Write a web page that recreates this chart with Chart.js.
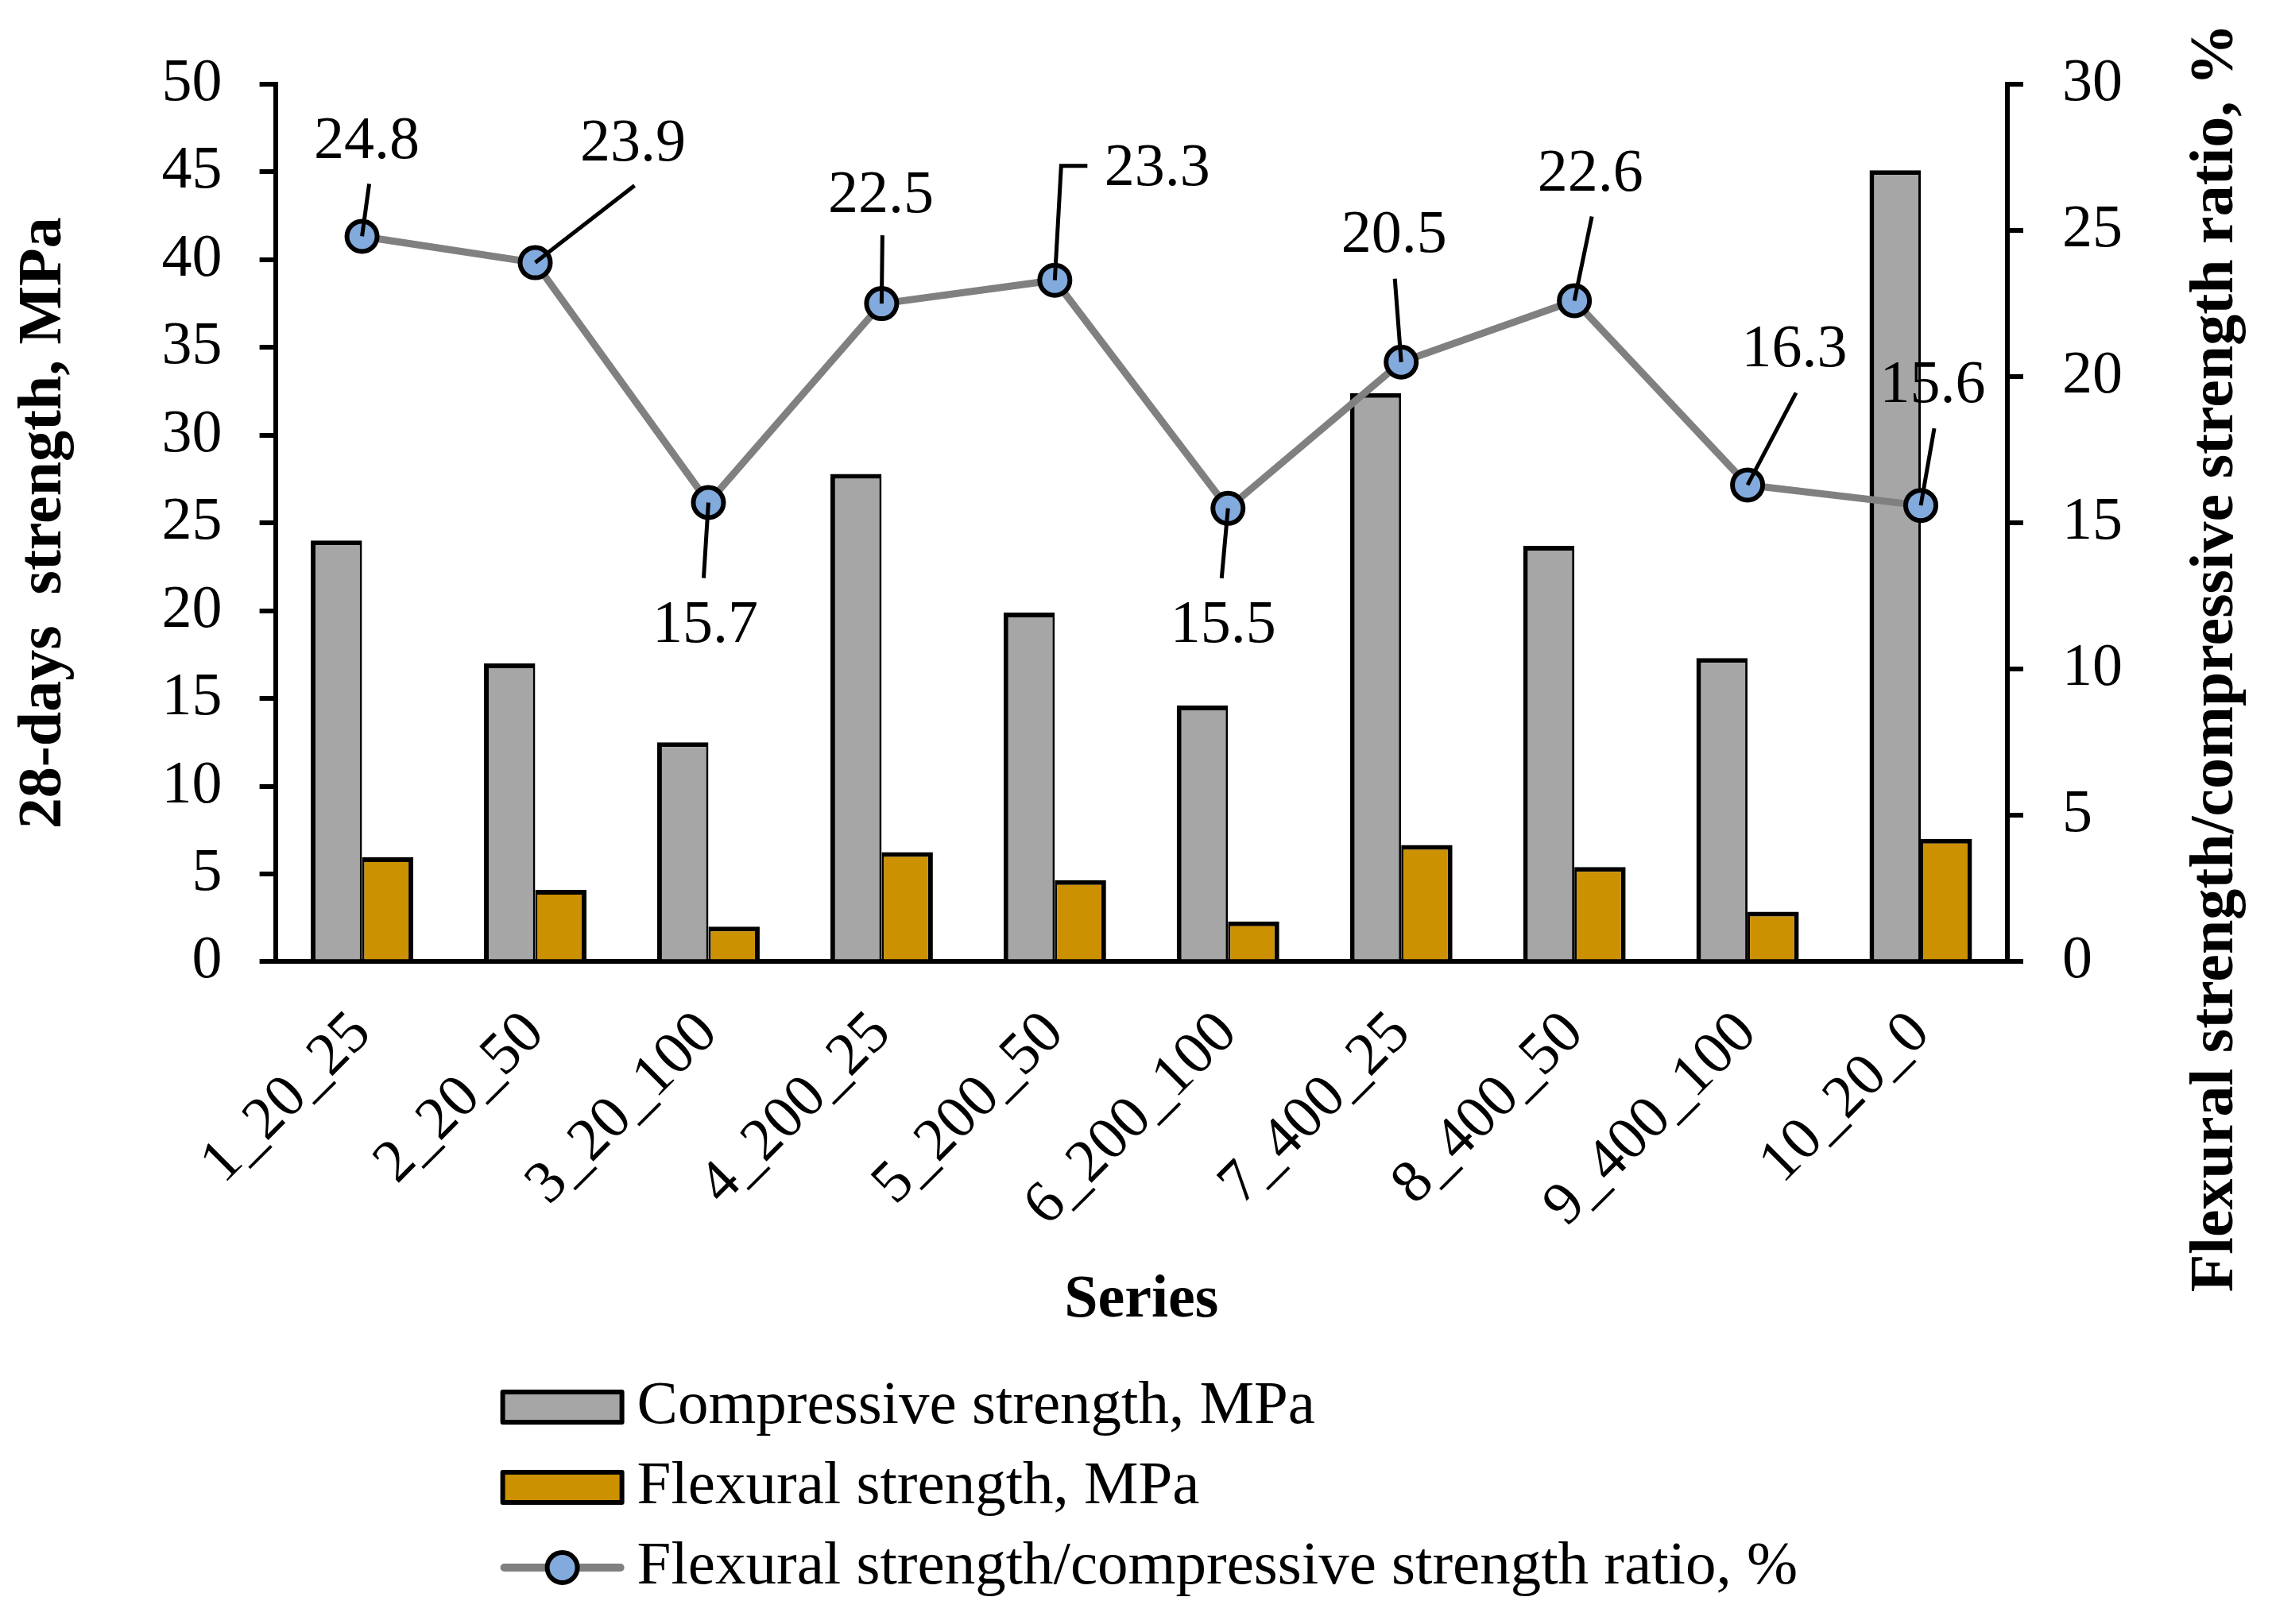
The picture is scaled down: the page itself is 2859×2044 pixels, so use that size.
<!DOCTYPE html>
<html>
<head>
<meta charset="utf-8">
<script src="https://cdn.jsdelivr.net/npm/chart.js@4.4.1/dist/chart.umd.min.js"></script>
<style>
  html, body { margin: 0; padding: 0; background: #ffffff; }
  #wrap { width: 2859px; height: 2044px; }
</style>
</head>
<body>
<div id="wrap"><canvas id="c" width="2859" height="2044"></canvas></div>
<script>
// ---------------- data ----------------
const categories = ['1_20_25', '2_20_50', '3_20_100', '4_200_25', '5_200_50', '6_200_100', '7_400_25', '8_400_50', '9_400_100', '10_20_0'];
const compressive = [24.0, 17.0, 12.5, 27.8, 19.9, 14.6, 32.4, 23.7, 17.3, 45.1];
const flexural = [5.95, 4.1, 2.0, 6.25, 4.65, 2.3, 6.65, 5.4, 2.85, 7.0];
const ratio = [24.8, 23.9, 15.7, 22.5, 23.3, 15.5, 20.5, 22.6, 16.3, 15.6];
const ratioLabels = ['24.8', '23.9', '15.7', '22.5', '23.3', '15.5', '20.5', '22.6', '16.3', '15.6'];

const seriesNames = ['Compressive strength, MPa', 'Flexural strength, MPa', 'Flexural strength/compressive strength ratio, %'];
const leftAxisTitle = '28-days  strength, MPa';
const rightAxisTitle = 'Flexural strength/compressive strength ratio, %';
const xAxisTitle = 'Series';
const leftAxisRange = [0, 50];
const rightAxisRange = [0, 30];
const tickStep = 5;

// label placement (offsets from each marker, px) and leader lines
const labelOffsets = [[6, -118], [123, -149], [-4, 156], [-1, -135], [129, -140], [-6, 148], [-9, -159], [20, -158], [59, -169], [15, -150]];
const leaderPaths = [[[9, -66]], [[125, -97]], [[-6, 95]], [[1, -86]], [[8, -144], [41, -144]], [[-8, 88]], [[-8, -105]], [[22, -106]], [[61, -116]], [[17, -97]]];

// ---------------- styles ----------------
const FONT = "'Liberation Serif', 'Times New Roman', Times, serif";
const GREY = '#a6a6a6';
const GOLD = '#cc9100';
const LINE = '#808080';
const MARK = '#82aadc';

Chart.defaults.font.family = FONT;
Chart.defaults.color = '#000';

const ratioLabelPlugin = {
  id: 'ratioLabels',
  afterDatasetsDraw(chart) {
    const meta = chart.getDatasetMeta(2);
    const ctx = chart.ctx;
    ctx.save();
    ctx.strokeStyle = '#000';
    ctx.lineWidth = 5;
    ctx.lineJoin = 'miter';
    ctx.lineCap = 'butt';
    meta.data.forEach((pt, i) => {
      ctx.beginPath();
      ctx.moveTo(pt.x, pt.y);
      leaderPaths[i].forEach(p => ctx.lineTo(pt.x + p[0], pt.y + p[1]));
      ctx.stroke();
    });
    ctx.fillStyle = '#000';
    ctx.font = '76px ' + FONT;
    ctx.textAlign = 'center';
    ctx.textBaseline = 'middle';
    meta.data.forEach((pt, i) => {
      ctx.fillText(ratioLabels[i], pt.x + labelOffsets[i][0], pt.y + labelOffsets[i][1]);
    });
    ctx.restore();
  }
};

const rightTitlePlugin = {
  id: 'rightTitle',
  afterDraw(chart) {
    const ctx = chart.ctx;
    const ca = chart.chartArea;
    ctx.save();
    ctx.translate(ca.right + 263, 828);
    ctx.rotate(-Math.PI / 2);
    ctx.font = 'bold 78px ' + FONT;
    ctx.fillStyle = '#000';
    ctx.textAlign = 'center';
    ctx.textBaseline = 'middle';
    ctx.fillText(rightAxisTitle, 0, 0);
    ctx.restore();
  }
};

const stackedLegendPlugin = {
  id: 'stackedLegend',
  afterDraw(chart) {
    const ctx = chart.ctx;
    const left = chart.chartArea.left + 283;
    const firstRow = chart.scales.x.bottom + 88;
    const rowGap = 101;
    const boxW = 156, boxH = 44;
    ctx.save();
    chart.data.datasets.forEach((ds, i) => {
      const cy = firstRow + i * rowGap;
      if (ds.type === 'line') {
        ctx.strokeStyle = ds.borderColor;
        ctx.lineWidth = 10;
        ctx.lineCap = 'round';
        ctx.beginPath();
        ctx.moveTo(left + 5, cy);
        ctx.lineTo(left + boxW - 5, cy);
        ctx.stroke();
        ctx.beginPath();
        ctx.arc(left + boxW / 2, cy, 19, 0, Math.PI * 2);
        ctx.fillStyle = ds.pointBackgroundColor;
        ctx.fill();
        ctx.lineWidth = 6;
        ctx.strokeStyle = ds.pointBorderColor;
        ctx.stroke();
      } else {
        ctx.fillStyle = ds.backgroundColor;
        ctx.strokeStyle = '#000';
        ctx.lineWidth = 6;
        ctx.lineJoin = 'round';
        ctx.fillRect(left + 3, cy - boxH / 2 + 3, boxW - 6, boxH - 6);
        ctx.strokeRect(left + 3, cy - boxH / 2 + 3, boxW - 6, boxH - 6);
      }
      ctx.fillStyle = '#000';
      ctx.font = '77px ' + FONT;
      ctx.textAlign = 'left';
      ctx.textBaseline = 'middle';
      ctx.fillText(ds.label, left + boxW + 16, cy);
    });
    ctx.restore();
  }
};

new Chart(document.getElementById('c'), {
  data: {
    labels: categories,
    datasets: [
      {
        type: 'bar', label: seriesNames[0], data: compressive, yAxisID: 'y', order: 1,
        backgroundColor: GREY, borderColor: '#000',
        borderWidth: {top: 6, left: 6, right: 3, bottom: 0}, borderSkipped: false,
        categoryPercentage: 0.592, barPercentage: 1.0
      },
      {
        type: 'bar', label: seriesNames[1], data: flexural, yAxisID: 'y', order: 1,
        backgroundColor: GOLD, borderColor: '#000',
        borderWidth: {top: 6, left: 3, right: 6, bottom: 0}, borderSkipped: false,
        categoryPercentage: 0.592, barPercentage: 1.0
      },
      {
        type: 'line', label: seriesNames[2], data: ratio, yAxisID: 'y2', order: 0,
        borderColor: LINE, borderWidth: 9, tension: 0, fill: false,
        pointRadius: 19, pointHoverRadius: 19, pointBorderWidth: 6,
        pointBackgroundColor: MARK, pointBorderColor: '#000'
      }
    ]
  },
  options: {
    responsive: false,
    animation: false,
    devicePixelRatio: 1,
    events: [],
    layout: {padding: {top: 106, left: 0, right: 139, bottom: 361}},
    plugins: {legend: {display: false}, tooltip: {enabled: false}, title: {display: false}},
    scales: {
      x: {
        type: 'category',
        offset: true,
        grid: {display: false, drawTicks: false},
        border: {display: true, color: '#000', width: 6},
        ticks: {font: {size: 76}, color: '#000', minRotation: 45, maxRotation: 45, padding: 46, autoSkip: false},
        title: {display: true, text: xAxisTitle, color: '#000', font: {size: 76, weight: 'bold'}, padding: {top: -17, bottom: 0}}
      },
      y: {
        type: 'linear', position: 'left',
        min: leftAxisRange[0], max: leftAxisRange[1],
        ticks: {stepSize: tickStep, font: {size: 76}, color: '#000', padding: 47},
        grid: {drawOnChartArea: false, drawTicks: true, tickLength: 20, color: '#000', lineWidth: 6},
        border: {display: true, color: '#000', width: 6},
        title: {display: true, text: leftAxisTitle, color: '#000', font: {size: 78, weight: 'bold'}, padding: {top: 9, bottom: 54}}
      },
      y2: {
        type: 'linear', position: 'right',
        min: rightAxisRange[0], max: rightAxisRange[1],
        ticks: {stepSize: tickStep, font: {size: 76}, color: '#000', padding: 49},
        grid: {drawOnChartArea: false, drawTicks: true, tickLength: 20, color: '#000', lineWidth: 6},
        border: {display: true, color: '#000', width: 6},
        title: {display: false}
      }
    }
  },
  plugins: [ratioLabelPlugin, rightTitlePlugin, stackedLegendPlugin]
});
</script>
</body>
</html>
